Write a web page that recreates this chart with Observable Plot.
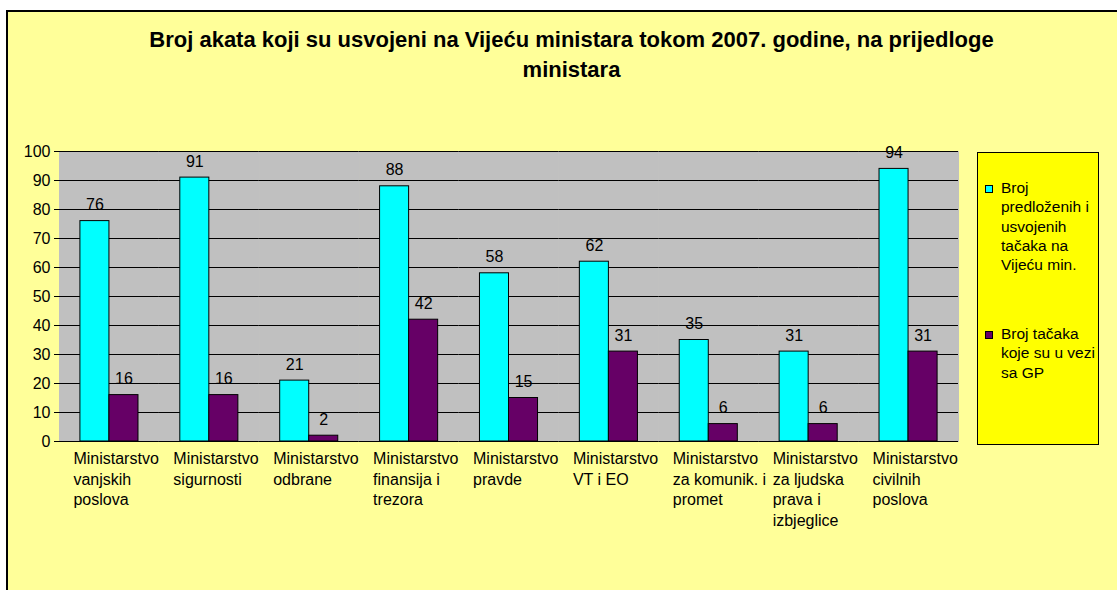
<!DOCTYPE html>
<html>
<head>
<meta charset="utf-8">
<script src="https://cdn.jsdelivr.net/npm/d3@7"></script>
<script src="https://cdn.jsdelivr.net/npm/@observablehq/plot@0.6"></script>
<style>
  html, body { margin: 0; padding: 0; background: #ffffff; }
  body { width: 1117px; height: 590px; overflow: hidden; position: relative; font-family: "Liberation Sans", Arial, sans-serif; }
  #frame { position: absolute; left: 6px; top: 10px; width: 1200px; height: 700px; background: #FFFF99; border-left: 2px solid #000; border-top: 2px solid #000; }
  #title { position: absolute; left: 0; top: 25px; width: 1143px; text-align: center; font-weight: bold; font-size: 22px; line-height: 30px; color: #000; white-space: pre; }
  #chart { position: absolute; left: 0; top: 130px; }
  #legend { position: absolute; left: 977px; top: 152px; width: 122px; height: 293px; box-sizing: border-box; background: #FFFF00; border: 1px solid #000; padding-top: 25px; }
  .item { position: relative; padding-left: 23px; width: 97px; font-size: 15.5px; line-height: 19.25px; color: #000; }
  .item + .item { margin-top: 49.75px; }
  .sw { position: absolute; left: 7px; top: 7px; width: 8px; height: 8px; box-sizing: border-box; border: 1px solid #000; }
</style>
</head>
<body>
<div id="frame"></div>
<div id="title"></div>
<div id="chart"></div>
<div id="legend"></div>
<script>
// ---- data ----
const titleLines = ["Broj akata koji su usvojeni na Vijeću ministara tokom 2007. godine, na prijedloge", "ministara"];
const ministries = [
  "Ministarstvo\nvanjskih\nposlova",
  "Ministarstvo\nsigurnosti",
  "Ministarstvo\nodbrane",
  "Ministarstvo\nfinansija i\ntrezora",
  "Ministarstvo\npravde",
  "Ministarstvo\nVT i EO",
  "Ministarstvo\nza komunik. i\npromet",
  "Ministarstvo\nza ljudska\nprava i\nizbjeglice",
  "Ministarstvo\ncivilnih\nposlova"
];
const seriesNames = [
  "Broj predloženih i usvojenih tačaka na Vijeću min.",
  "Broj tačaka koje su u vezi sa GP"
];
const adopted = [76, 91, 21, 88, 58, 62, 35, 31, 94];
const relatedGP = [16, 16, 2, 42, 15, 31, 6, 6, 31];
const yTicks = [0, 10, 20, 30, 40, 50, 60, 70, 80, 90, 100];
const colors = ["#00FFFF", "#660066"];

// ---- table built from the arrays ----
const rows = [];
ministries.forEach((m, i) => {
  rows.push({ministry: m, series: seriesNames[0], value: adopted[i]});
  rows.push({ministry: m, series: seriesNames[1], value: relatedGP[i]});
});

document.getElementById("title").textContent = titleLines.join("\n");

const chart = Plot.plot({
  width: 1117,
  height: 460,
  marginLeft: 59,
  marginRight: 159,
  marginTop: 21,
  marginBottom: 149,
  style: {background: "transparent", fontFamily: "'Liberation Sans', Arial, sans-serif", fontSize: "16px", color: "#000", overflow: "visible"},
  facet: {data: rows, x: "ministry"},
  fx: {domain: ministries, padding: 0, round: false, axis: null},
  x: {domain: seriesNames, paddingInner: 0, paddingOuter: 0.72, round: false, axis: null},
  y: {domain: [0, 100], ticks: yTicks, tickSize: 5, tickPadding: 4, label: null, line: true},
  color: {domain: seriesNames, range: colors},
  marks: [
    Plot.frame({fill: "#C0C0C0", stroke: "#C0C0C0"}),
    Plot.ruleY(yTicks, {stroke: "#000", strokeWidth: 1}),
    Plot.barY(rows, {x: "series", y: "value", fill: "series", stroke: "#000", strokeWidth: 1}),
    Plot.text(rows, {x: "series", y: "value", text: d => String(d.value), dy: -16, fontSize: 16}),
    Plot.text(rows, {filter: d => d.series === seriesNames[0], frameAnchor: "bottom", text: "ministry",
      textAnchor: "start", lineAnchor: "top", dx: -36, dy: 8, lineHeight: 1.29, fontSize: 16})
  ]
});
document.getElementById("chart").appendChild(chart);

const legend = document.getElementById("legend");
seriesNames.forEach((s, i) => {
  const item = document.createElement("div");
  item.className = "item";
  const sw = document.createElement("span");
  sw.className = "sw";
  sw.style.background = colors[i];
  item.appendChild(sw);
  item.appendChild(document.createTextNode(s));
  legend.appendChild(item);
});
</script>
</body>
</html>
